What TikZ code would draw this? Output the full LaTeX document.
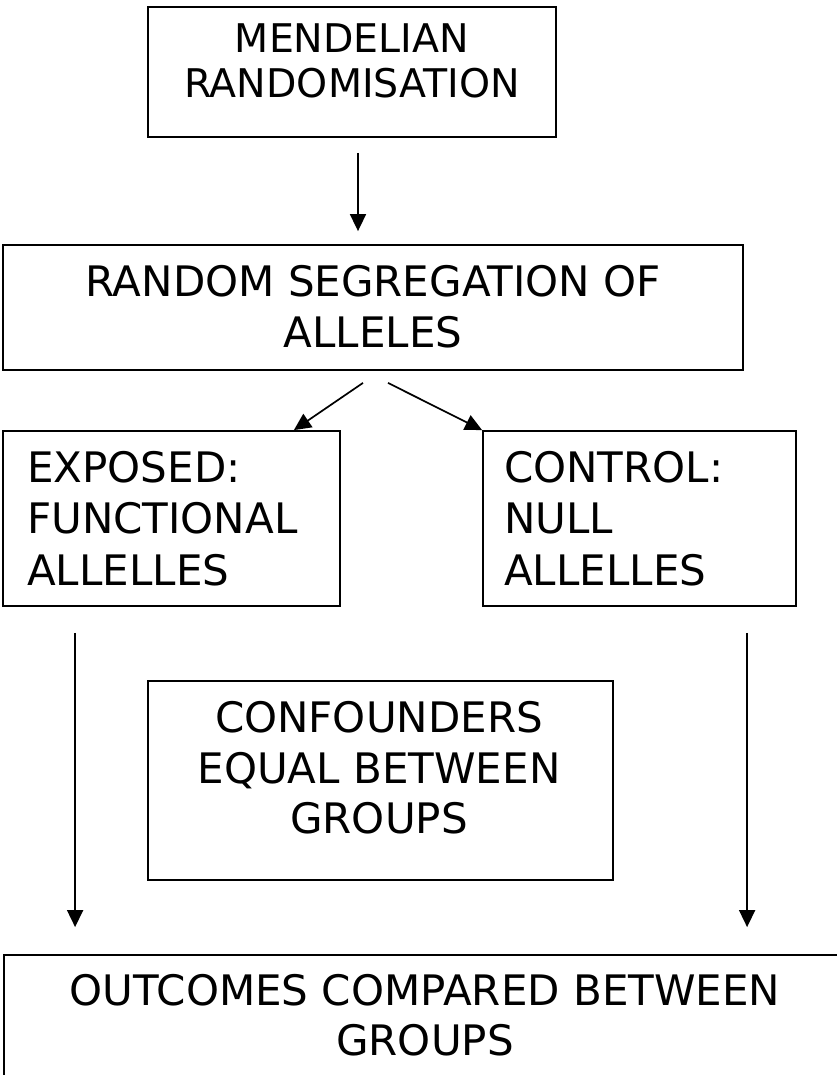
\documentclass[tikz,border=0pt]{standalone}
\usepackage{fontspec}
\setmainfont{DejaVu Sans}
\usetikzlibrary{arrows.meta,calc}
\begin{document}
\begin{tikzpicture}[x=1pt,y=-1pt,
  box/.style={draw=black, line width=1.8pt, rectangle, inner sep=0pt},
  txt/.style={anchor=base, inner sep=0pt, font=\fontsize{42}{50}\selectfont},
  txtl/.style={txt, anchor=base west},
  txttop/.style={txt, font=\fontsize{39.5}{45}\selectfont},
  arr/.style={line width=1.7pt, -{Triangle[length=17pt,width=16pt]}}]
\useasboundingbox (0,0) rectangle (836,1075);

% boxes
\node[box, minimum width=408pt, minimum height=130pt] (top) at (352,72) {};
\node[box, minimum width=740pt, minimum height=125pt] (seg) at (373,307.5) {};
\node[box, minimum width=337pt, minimum height=175pt] (expo) at (171.5,518.5) {};
\node[box, minimum width=313pt, minimum height=175pt] (ctrl) at (639.5,518.5) {};
\node[box, minimum width=465pt, minimum height=199pt] (conf) at (380.5,780.5) {};
\node[box, minimum width=836pt, minimum height=145pt] (outc) at (422,1027.5) {};

% box texts
\node[txttop] (topA) at (352,53) {MENDELIAN};
\node[txttop] (topB) at (352,98) {RANDOMISATION};

\node[txt] (segA) at (373,296) {RANDOM SEGREGATION OF};
\node[txt] (segB) at (373,347) {ALLELES};

\node[txtl] (expoA) at (27,482) {EXPOSED:};
\node[txtl] (expoB) at (27,533.5) {FUNCTIONAL};
\node[txtl] (expoC) at (27,585) {ALLELLES};

\node[txtl] (ctrlA) at (504,482) {CONTROL:};
\node[txtl] (ctrlB) at (504,533.5) {NULL};
\node[txtl] (ctrlC) at (504,585) {ALLELLES};

\node[txt] (confA) at (379,732) {CONFOUNDERS};
\node[txt] (confB) at (379,783) {EQUAL BETWEEN};
\node[txt] (confC) at (379,833) {GROUPS};

\node[txt] (outcA) at (425,1005) {OUTCOMES COMPARED BETWEEN};
\node[txt] (outcB) at (425,1055) {GROUPS};

% connectors
\draw[arr] ($(top.south)+(6,15)$) -- ($(seg.north)+(-15,-13)$);
\draw[arr] ($(seg.south)+(-10,12)$) -- ($(expo.north east)+(-47,0)$);
\draw[arr] ($(seg.south)+(15,12)$) -- (ctrl.north west);
\draw[arr] ($(expo.south west)+(73,26)$) -- ($(outc.north west)+(72,-27)$);
\draw[arr] ($(ctrl.south west)+(265,26)$) -- ($(outc.north west)+(744,-27)$);
\end{tikzpicture}
\end{document}
